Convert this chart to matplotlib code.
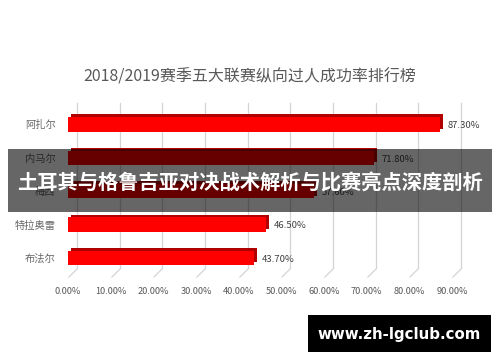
import matplotlib
matplotlib.use('Agg')
from matplotlib import pyplot as plt
from matplotlib.patches import Rectangle
from matplotlib.transforms import ScaledTranslation
import matplotlib.patheffects as pe
import numpy as np

plt.rcParams['font.family'] = ['Noto Sans CJK SC', 'DejaVu Sans']

title = '2018/2019赛季五大联赛纵向过人成功率排行榜'
players = ['阿扎尔', '内马尔', '梅西', '特拉奥雷', '布法尔']
rates = [87.3, 71.8, 57.6, 46.5, 43.7]   # percent
xticks = [0, 10, 20, 30, 40, 50, 60, 70, 80, 90]
banner = '土耳其与格鲁吉亚对决战术解析与比赛亮点深度剖析'
site = 'www.zh-lgclub.com'

W, H = 500, 362
fig = plt.figure(figsize=(W/100, H/100), dpi=100)
fig.patch.set_facecolor('white')

# front plane of the pseudo-3d plot, in pixels
left, right, bottom, top = 68, 452, 277, 112
ax = fig.add_axes([left/W, 1 - bottom/H, (right-left)/W, (bottom-top)/H])
ax.set_facecolor('none')

ypos = np.arange(len(players))[::-1]
ax.set_xlim(0, 90)
ax.set_ylim(-0.57, 4.37)

# back wall gridlines + floor diagonals (shifted up/right for depth)
depth = ScaledTranslation(9/100, 9/100, fig.dpi_scale_trans)
for t in xticks:
    ax.plot([t, t], [0, 1], color='#d4d4d4', lw=0.9, zorder=1, clip_on=False,
            transform=ax.get_xaxis_transform() + depth)
ax.plot(xticks, [0]*len(xticks), ls='none', marker=[(0, 0), (1, 1)], ms=13,
        mec='#d4d4d4', mew=0.9, zorder=1, clip_on=False,
        transform=ax.get_xaxis_transform())

bars = ax.barh(ypos, rates, height=0.43, color='#ff0000', zorder=3)
for b in bars:
    b.set_path_effects([pe.SimplePatchShadow(offset=(2, 2), shadow_rgbFace='#b00000', alpha=1),
                        pe.Normal()])

for y, v in zip(ypos, rates):
    ax.annotate(f'{v:.2f}%', (v, y), xytext=(5.5, -1), textcoords='offset points',
                ha='left', va='center', fontsize=6.8, color='#404040', zorder=4)

ax.set_xticks(xticks)
ax.set_xticklabels([f'{t:.2f}%' for t in xticks])
ax.set_yticks(ypos)
ax.set_yticklabels(players)
ax.tick_params(axis='x', length=0, pad=7.5, labelsize=6.6, labelcolor='#595959')
ax.tick_params(axis='y', length=0, pad=9, labelsize=7.4, labelcolor='#666666')
for s in ax.spines.values():
    s.set_visible(False)

fig.text(0.5, 1 - 77/H, title, ha='center', va='center', fontsize=11.5, color='#595959')

# dark overlay band with headline
fig.patches.append(Rectangle((8/W, 1 - 212/H), 484/W, 63/H, transform=fig.transFigure,
                             facecolor='black', alpha=0.6, edgecolor='none', zorder=5))
fig.text(0.5, 1 - 183/H, banner, ha='center', va='center', fontsize=14.6,
         fontweight='bold', color='white', zorder=6)

# watermark box
fig.patches.append(Rectangle((308/W, 1 - 352/H), 183/W, 37/H, transform=fig.transFigure,
                             facecolor='black', edgecolor='none', zorder=5))
fig.text(399/W, 1 - 334/H, site, ha='center', va='center', fontsize=10.8,
         fontweight='bold', color='white', family='DejaVu Sans', zorder=6)

fig.savefig('out.png', dpi=100)
